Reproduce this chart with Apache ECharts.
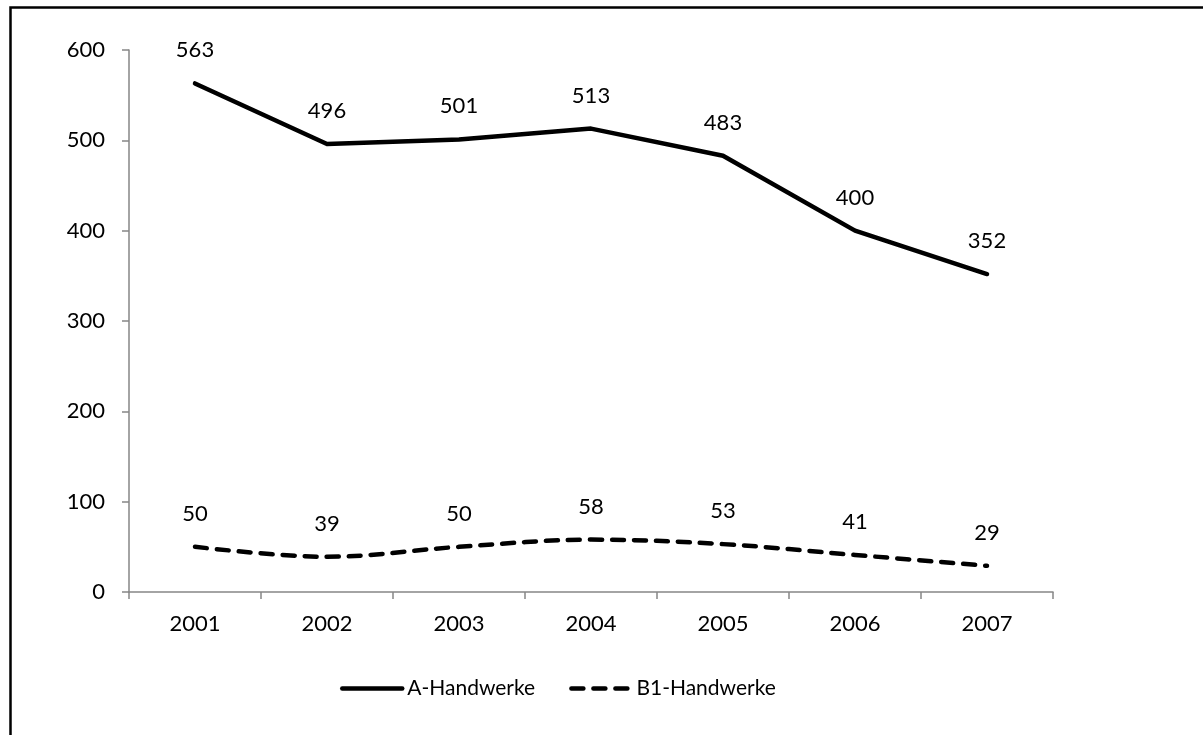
<!DOCTYPE html>
<html>
<head>
<meta charset="utf-8">
<script src="https://cdn.jsdelivr.net/npm/echarts@6/dist/echarts.min.js"></script>
<style>html,body{margin:0;padding:0;background:#fff}#c{width:1203px;height:735px}</style>
</head>
<body>
<div id="c"></div>
<script>
const categories = ['2001','2002','2003','2004','2005','2006','2007'];
const seriesA = [563, 496, 501, 513, 483, 400, 352];
const seriesB1 = [50, 39, 50, 58, 53, 41, 29];
const yTicks = {min: 0, max: 600, interval: 100};
const FONT = 'Lato';

const chart = echarts.init(document.getElementById('c'), null, {renderer: 'canvas'});
chart.setOption({
  backgroundColor: '#fff',
  animation: false,
  textStyle: {fontFamily: FONT},
  graphic: [{
    type: 'rect', left: 8, top: 5, silent: true,
    shape: {width: 1300, height: 800},
    style: {fill: 'none', stroke: '#000', lineWidth: 2.5}
  }],
  grid: {left: 129, right: 150, top: 50, bottom: 143, containLabel: false},
  legend: {
    bottom: 31, left: 335,
    itemWidth: 60, itemHeight: 14, itemGap: 34,
    itemStyle: {opacity: 0},
    lineStyle: {width: 4.5, cap: 'round'},
    textStyle: {fontFamily: FONT, fontSize: 21, color: '#000'},
    data: ['A-Handwerke', 'B1-Handwerke']
  },
  xAxis: {
    type: 'category', data: categories, boundaryGap: true,
    axisLine: {lineStyle: {color: '#868686', width: 1.5}},
    axisTick: {show: true, length: 7, alignWithLabel: false, lineStyle: {color: '#868686', width: 1.5}},
    axisLabel: {color: '#000', fontSize: 22, fontFamily: FONT, margin: 21}
  },
  yAxis: {
    type: 'value', min: yTicks.min, max: yTicks.max, interval: yTicks.interval,
    splitLine: {show: false},
    axisLine: {show: true, lineStyle: {color: '#868686', width: 1.5}},
    axisTick: {show: true, length: 7, lineStyle: {color: '#868686', width: 1.5}},
    axisLabel: {color: '#000', fontSize: 22, fontFamily: FONT, margin: 24}
  },
  series: [{
    name: 'A-Handwerke', type: 'line', data: seriesA,
    symbol: 'circle', symbolSize: 0.1, color: '#000',
    lineStyle: {color: '#000', width: 4.5, cap: 'round', join: 'round'},
    label: {show: true, position: 'top', distance: 22, color: '#000', fontSize: 22, fontFamily: FONT}
  }, {
    name: 'B1-Handwerke', type: 'line', data: seriesB1, smooth: 0.35,
    symbol: 'circle', symbolSize: 0.1, color: '#000',
    lineStyle: {color: '#000', width: 4.5, type: [12, 10], cap: 'round', join: 'round'},
    label: {show: true, position: 'top', distance: 22, color: '#000', fontSize: 22, fontFamily: FONT}
  }]
});
</script>
</body>
</html>
